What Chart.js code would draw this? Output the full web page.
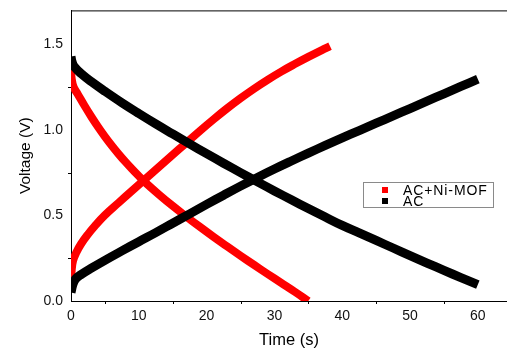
<!DOCTYPE html>
<html>
<head>
<meta charset="utf-8">
<script src="https://cdn.jsdelivr.net/npm/chart.js@4"></script>
<style>
  html, body { margin: 0; padding: 0; background: #fff; overflow: hidden; }
  #wrap { position: relative; width: 507px; height: 350px; }
  #legend {
    position: absolute; left: 363px; top: 182px; width: 131px; height: 26px;
    box-sizing: border-box; border: 1px solid #8a8a8a; background: #fff;
    font-family: "Liberation Sans", Arial, sans-serif; font-size: 14px; color: #000;
  }
  #legend div { position: absolute; left: 0; height: 12px; line-height: 12px; white-space: nowrap; letter-spacing: 0.9px; }
  #legend span.m { position: absolute; left: 18px; top: 3px; width: 6px; height: 6px; }
  #legend span.t { position: absolute; left: 39px; top: 0; }
</style>
</head>
<body>
<div id="wrap">
  <canvas id="c" width="507" height="350"></canvas>
  <div id="legend"></div>
</div>
<script>
// series names and colours
const seriesNames = ['AC+Ni-MOF', 'AC'];
const seriesColors = ['#ff0000', '#000000'];

// AC+Ni-MOF charge branch
const mofChargeTime = [0, 0.1, 0.3, 0.8, 1.5, 2.5, 3.5, 5, 7, 9, 11, 13, 15, 17, 19, 21, 23, 25, 27, 29, 31, 33, 35, 37, 38.2];
const mofChargeVolt = [0.10, 0.18, 0.235, 0.285, 0.335, 0.39, 0.438, 0.502, 0.574, 0.645, 0.715, 0.785, 0.855, 0.925, 0.995, 1.062, 1.126, 1.186, 1.242, 1.294, 1.342, 1.386, 1.428, 1.468, 1.491];
// AC+Ni-MOF discharge branch
const mofDischTime = [0, 0.1, 0.4, 1, 2, 3, 4, 5, 6, 7, 8, 9, 10, 11, 13, 15, 17, 19, 21, 23, 25, 27, 29, 31, 33, 35];
const mofDischVolt = [1.36, 1.30, 1.25, 1.21, 1.142, 1.078, 1.018, 0.962, 0.910, 0.861, 0.815, 0.772, 0.731, 0.692, 0.622, 0.556, 0.494, 0.434, 0.376, 0.320, 0.265, 0.211, 0.158, 0.106, 0.054, 0.0];

// AC charge branch
const acChargeTime = [0, 0.3, 0.7, 1.5, 3, 5, 7.5, 10, 12.5, 15, 17.5, 20, 22.5, 25, 27.5, 30, 32.5, 35, 37.5, 40, 42.5, 45, 47.5, 50, 52.5, 55, 57.5, 60];
const acChargeVolt = [0.05, 0.10, 0.13, 0.155, 0.192, 0.238, 0.293, 0.347, 0.400, 0.455, 0.510, 0.565, 0.619, 0.672, 0.723, 0.772, 0.819, 0.865, 0.910, 0.954, 0.997, 1.040, 1.083, 1.126, 1.169, 1.212, 1.255, 1.298];
// AC discharge branch
const acDischTime = [0, 0.15, 0.5, 1.5, 3, 5, 7.5, 10, 12.5, 15, 17.5, 20, 22.5, 25, 27.5, 30, 32.5, 35, 37.5, 40, 42.5, 45, 47.5, 50, 52.5, 55, 57.5, 60];
const acDischVolt = [1.43, 1.40, 1.37, 1.33, 1.283, 1.227, 1.160, 1.097, 1.036, 0.977, 0.919, 0.862, 0.806, 0.751, 0.697, 0.644, 0.592, 0.541, 0.491, 0.442, 0.398, 0.354, 0.310, 0.266, 0.222, 0.179, 0.137, 0.096];

// axis ticks
const xMajorTicks = [0, 10, 20, 30, 40, 50, 60];
const xMinorTicks = [5, 15, 25, 35, 45, 55];
const yMajorTicks = [0, 0.5, 1.0, 1.5];
const yMinorTicks = [0.25, 0.75, 1.25];

const FONT = '"Liberation Sans", Arial, sans-serif';

function pts(xs, ys) {
  return xs.map((x, i) => ({ x: x, y: ys[i] }));
}

function branch(xs, ys, color, width) {
  return {
    data: pts(xs, ys),
    borderColor: color,
    backgroundColor: color,
    borderWidth: width,
    borderCapStyle: 'butt',
    borderJoinStyle: 'round',
    pointRadius: 0,
    tension: 0.4,
    fill: false
  };
}

// draw the top frame line and the short minor ticks
const framePlugin = {
  id: 'frame',
  afterDraw(chart) {
    const ctx = chart.ctx;
    const a = chart.chartArea;
    const xs = chart.scales.x, ys = chart.scales.y;
    ctx.save();
    ctx.strokeStyle = '#000';
    ctx.lineWidth = 1;
    ctx.beginPath();
    ctx.moveTo(a.left, a.top + 0.5);
    ctx.lineTo(a.right, a.top + 0.5);
    xMinorTicks.forEach(v => {
      const px = Math.round(xs.getPixelForValue(v)) + 0.5;
      ctx.moveTo(px, a.bottom);
      ctx.lineTo(px, a.bottom + 3);
    });
    yMinorTicks.forEach(v => {
      const py = Math.round(ys.getPixelForValue(v)) + 0.5;
      ctx.moveTo(a.left, py);
      ctx.lineTo(a.left - 3, py);
    });
    ctx.stroke();
    ctx.restore();
  }
};

new Chart(document.getElementById('c'), {
  type: 'line',
  data: {
    datasets: [
      branch(acChargeTime, acChargeVolt, seriesColors[1], 9),
      branch(acDischTime, acDischVolt, seriesColors[1], 9),
      branch(mofChargeTime, mofChargeVolt, seriesColors[0], 8),
      branch(mofDischTime, mofDischVolt, seriesColors[0], 8)
    ]
  },
  options: {
    responsive: false,
    animation: false,
    layout: { padding: { top: 8, right: 0, bottom: 0, left: 0 } },
    plugins: { legend: { display: false }, tooltip: { enabled: false } },
    scales: {
      x: {
        type: 'linear',
        min: 0,
        max: 64.3,
        afterFit(s) { s.height = 49; },
        afterBuildTicks(s) { s.ticks = xMajorTicks.map(v => ({ value: v })); },
        grid: { display: false, drawTicks: true, tickLength: 5, tickColor: '#000' },
        border: { display: true, color: '#000', width: 1 },
        ticks: { color: '#111', font: { family: FONT, size: 14 }, padding: 2, maxRotation: 0 },
        title: { display: true, text: 'Time (s)', color: '#000', font: { family: FONT, size: 16.5 }, padding: { top: 0, bottom: 0 } }
      },
      y: {
        type: 'linear',
        min: 0,
        max: 1.7,
        afterFit(s) { s.width = 71; },
        afterBuildTicks(s) { s.ticks = yMajorTicks.map(v => ({ value: v })); },
        grid: { display: false, drawTicks: true, tickLength: 6, tickColor: '#000' },
        border: { display: true, color: '#000', width: 1 },
        ticks: { color: '#111', font: { family: FONT, size: 14 }, padding: 2, callback: v => v.toFixed(1) },
        title: { display: true, text: 'Voltage (V)', color: '#000', font: { family: FONT, size: 15.5 }, padding: { top: 16, bottom: 0 } }
      }
    }
  },
  plugins: [framePlugin]
});

// legend box inside the plot
const legend = document.getElementById('legend');
seriesNames.forEach((name, i) => {
  const row = document.createElement('div');
  row.style.top = (i * 11 + 1) + 'px';
  row.innerHTML = '<span class="m" style="background:' + seriesColors[i] + '"></span><span class="t">' + name + '</span>';
  legend.appendChild(row);
});
</script>
</body>
</html>
